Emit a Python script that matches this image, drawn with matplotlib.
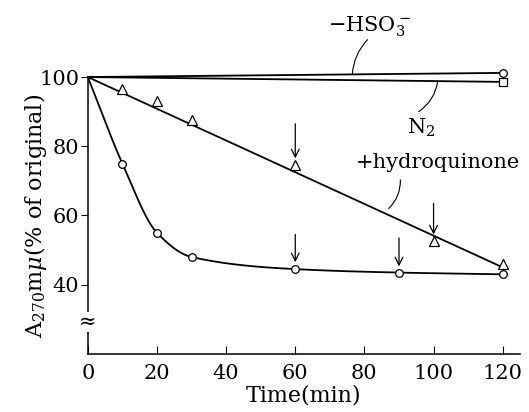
import matplotlib
matplotlib.use("Agg")
import matplotlib.pyplot as plt
import numpy as np

plt.rcParams["font.family"] = ["DejaVu Serif"]
plt.rcParams["mathtext.fontset"] = "dejavuserif"

# data
t_ctrl = [0, 10, 20, 30, 60, 90, 120]
a_ctrl = [100, 75, 55, 48, 44.5, 43.5, 43]

t_hq = [10, 20, 30, 60, 100, 120]
a_hq = [96.5, 93, 87.5, 74.5, 52.5, 46]
t_hq_fit = [0, 120]
a_hq_fit = [100, 45]

t_hso3 = [0, 120]
a_hso3 = [100, 101.2]
t_n2 = [0, 120]
a_n2 = [100, 98.6]

# arrows: (time, top, tip)
arrows = [(60, 86.5, 76.5), (100, 63.5, 54.5), (60, 54.5, 46.5), (90, 53.5, 45.3)]

# labels: (text, x, y) and leader lines: (from, to, curvature)
labels = [(r"$-$HSO$_3^-$", 81.5, 114.5), (r"N$_2$", 96.4, 85.3), ("+hydroquinone", 101.2, 75.2)]
leaders = [((80.9, 110.8), (76.5, 100.8), 0.18),
           ((95.7, 90.0), (101.2, 98.8), 0.22),
           ((90.4, 70.3), (87.0, 62.0), -0.22)]


def pchip(x, y, xs):
    x = np.asarray(x, float)
    y = np.asarray(y, float)
    h = np.diff(x)
    d = np.diff(y) / h
    m = np.zeros_like(y)
    for k in range(1, len(x) - 1):
        if d[k - 1] * d[k] > 0:
            w1 = 2 * h[k] + h[k - 1]
            w2 = h[k] + 2 * h[k - 1]
            m[k] = (w1 + w2) / (w1 / d[k - 1] + w2 / d[k])
    m[0] = d[0]
    m[-1] = d[-1]
    idx = np.clip(np.searchsorted(x, xs) - 1, 0, len(x) - 2)
    hh = h[idx]
    s = (xs - x[idx]) / hh
    h00 = 2 * s**3 - 3 * s**2 + 1
    h10 = s**3 - 2 * s**2 + s
    h01 = -2 * s**3 + 3 * s**2
    h11 = s**3 - s**2
    return h00 * y[idx] + h10 * hh * m[idx] + h01 * y[idx + 1] + h11 * hh * m[idx + 1]


fig = plt.figure(figsize=(5.29, 4.12), dpi=100)
ax = fig.add_axes([0.166, 0.141, 0.817, 0.672])

lw = 1.3
xs = np.linspace(0, 120, 400)
ax.plot(xs, pchip(t_ctrl, a_ctrl, xs), "k-", lw=lw)
ax.plot(t_ctrl[1:], a_ctrl[1:], "o", mfc="white", mec="k", ms=5.5, mew=0.9, zorder=3)

ax.plot(t_hq_fit, a_hq_fit, "k-", lw=lw)
ax.plot(t_hq, a_hq, "^", mfc="white", mec="k", ms=6.5, mew=0.9, zorder=3)

ax.plot(t_hso3, a_hso3, "k-", lw=lw, clip_on=False)
ax.plot(t_hso3[1:], a_hso3[1:], "o", mfc="white", mec="k", ms=5.5, mew=0.9, clip_on=False, zorder=3)
ax.plot(t_n2, a_n2, "k-", lw=lw, clip_on=False)
ax.plot(t_n2[1:], a_n2[1:], "s", mfc="white", mec="k", ms=5.5, mew=0.9, clip_on=False, zorder=3)

for t, top, tip in arrows:
    ax.annotate("", xy=(t, tip), xytext=(t, top),
                arrowprops=dict(arrowstyle="->", lw=0.9, color="k",
                                shrinkA=0, shrinkB=0, mutation_scale=14))

fs = 15
for text, x, y in labels:
    ax.text(x, y, text, fontsize=fs, ha="center", va="center", clip_on=False)
for start, end, rad in leaders:
    ax.annotate("", xy=end, xytext=start, annotation_clip=False,
                arrowprops=dict(arrowstyle="-", lw=0.8, color="k", shrinkA=0, shrinkB=0,
                                connectionstyle=f"arc3,rad={rad}"))

# axis break mark
ax.text(0, 29.2, "≈", fontsize=15, ha="center", va="center",
        bbox=dict(facecolor="white", edgecolor="none", pad=0.1), clip_on=False)

ax.set_xlim(0, 125)
ax.set_ylim(20, 100)
ax.set_xticks([0, 20, 40, 60, 80, 100, 120])
ax.set_yticks([40, 60, 80, 100])
ax.tick_params(axis="x", direction="in", length=6, pad=7, labelsize=fs)
ax.tick_params(axis="y", direction="out", length=5, pad=1, labelsize=fs)
for s in ("top", "right"):
    ax.spines[s].set_visible(False)
for s in ("left", "bottom"):
    ax.spines[s].set_linewidth(1.1)

ax.set_xlabel("Time(min)", fontsize=16, labelpad=1)
ax.set_ylabel(r"A$_{270}$m$\mu$(% of original)", fontsize=16)
ax.yaxis.set_label_coords(-0.09, 0.5)

fig.savefig("out.png", dpi=100)
